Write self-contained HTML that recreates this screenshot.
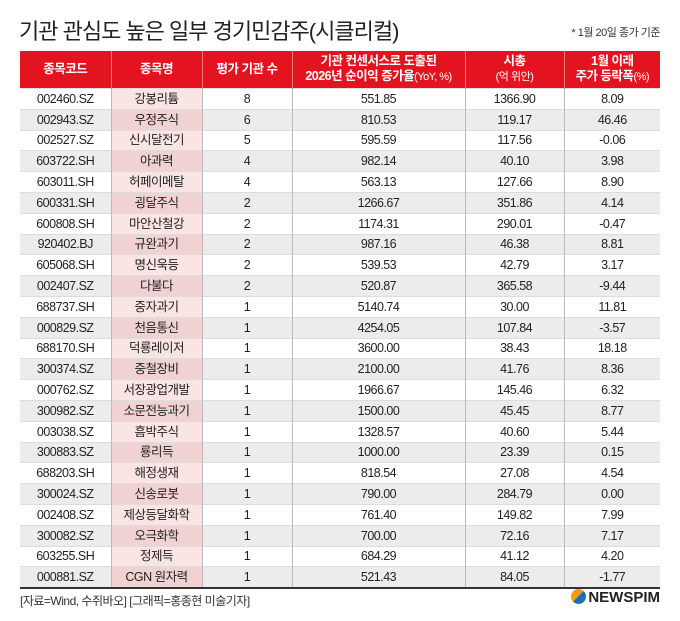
<!DOCTYPE html>
<html><head><meta charset="utf-8"><style>
body{margin:0;width:680px;height:621px;background:#fff;font-family:"Liberation Sans","Noto Sans CJK KR",sans-serif;position:relative;overflow:hidden;color:#222}
.t{position:absolute;left:19px;top:14px;font-size:22px;letter-spacing:-1px;color:#222}
.n{position:absolute;right:20px;top:24px;font-size:11px;color:#333;letter-spacing:-0.5px}
table{position:absolute;left:20px;top:51px;width:640px;border-collapse:collapse;table-layout:fixed}
th{background:#e3141f;color:#fff;font-size:12.5px;font-weight:bold;height:37px;padding:0;line-height:15px;border-left:1px solid #f08080;letter-spacing:-0.5px}
th:first-child{border-left:none}
th small{font-weight:normal;font-size:11px}
td{height:20.8px;padding:0;text-align:center;font-size:12.5px;line-height:14px;border-left:1px solid #bbb;border-top:1px solid #ddd;letter-spacing:-0.5px;box-sizing:border-box;vertical-align:middle}
td:first-child{border-left:none}
tbody tr:nth-child(even) td{background:#ececec}
td.p{background:#fbe4e4!important}
tbody tr:nth-child(even) td.p{background:#f1d2d2!important}
tbody tr:last-child td{border-bottom:2px solid #333}
.s{position:absolute;left:20px;top:592px;font-size:12px;color:#333;letter-spacing:-0.5px}
.l{position:absolute;right:20px;top:589px;font-size:15px;font-weight:bold;color:#222}
.l i{display:inline-block;width:15px;height:15px;border-radius:50%;background:linear-gradient(135deg,#f39c12 50%,#1d6fb8 50%);vertical-align:-2px;margin-right:2px}
</style></head><body>
<div class="t">기관 관심도 높은 일부 경기민감주(시클리컬)</div>
<div class="n">* 1월 20일 종가 기준</div>
<table>
<colgroup><col style="width:91px"><col style="width:91px"><col style="width:90px"><col style="width:173px"><col style="width:99px"><col style="width:96px"></colgroup>
<thead><tr><th>종목코드</th><th>종목명</th><th>평가 기관 수</th><th>기관 컨센서스로 도출된<br>2026년 순이익 증가율<small>(YoY, %)</small></th><th>시총<br><small>(억 위안)</small></th><th>1월 이래<br>주가 등락폭<small>(%)</small></th></tr></thead>
<tbody>
<tr><td>002460.SZ</td><td class="p">강봉리튬</td><td>8</td><td>551.85</td><td>1366.90</td><td>8.09</td></tr>
<tr><td>002943.SZ</td><td class="p">우정주식</td><td>6</td><td>810.53</td><td>119.17</td><td>46.46</td></tr>
<tr><td>002527.SZ</td><td class="p">신시달전기</td><td>5</td><td>595.59</td><td>117.56</td><td>-0.06</td></tr>
<tr><td>603722.SH</td><td class="p">아과력</td><td>4</td><td>982.14</td><td>40.10</td><td>3.98</td></tr>
<tr><td>603011.SH</td><td class="p">허페이메탈</td><td>4</td><td>563.13</td><td>127.66</td><td>8.90</td></tr>
<tr><td>600331.SH</td><td class="p">굉달주식</td><td>2</td><td>1266.67</td><td>351.86</td><td>4.14</td></tr>
<tr><td>600808.SH</td><td class="p">마안산철강</td><td>2</td><td>1174.31</td><td>290.01</td><td>-0.47</td></tr>
<tr><td>920402.BJ</td><td class="p">규완과기</td><td>2</td><td>987.16</td><td>46.38</td><td>8.81</td></tr>
<tr><td>605068.SH</td><td class="p">명신욱등</td><td>2</td><td>539.53</td><td>42.79</td><td>3.17</td></tr>
<tr><td>002407.SZ</td><td class="p">다불다</td><td>2</td><td>520.87</td><td>365.58</td><td>-9.44</td></tr>
<tr><td>688737.SH</td><td class="p">중자과기</td><td>1</td><td>5140.74</td><td>30.00</td><td>11.81</td></tr>
<tr><td>000829.SZ</td><td class="p">천음통신</td><td>1</td><td>4254.05</td><td>107.84</td><td>-3.57</td></tr>
<tr><td>688170.SH</td><td class="p">덕룡레이저</td><td>1</td><td>3600.00</td><td>38.43</td><td>18.18</td></tr>
<tr><td>300374.SZ</td><td class="p">중철장비</td><td>1</td><td>2100.00</td><td>41.76</td><td>8.36</td></tr>
<tr><td>000762.SZ</td><td class="p">서장광업개발</td><td>1</td><td>1966.67</td><td>145.46</td><td>6.32</td></tr>
<tr><td>300982.SZ</td><td class="p">소문전능과기</td><td>1</td><td>1500.00</td><td>45.45</td><td>8.77</td></tr>
<tr><td>003038.SZ</td><td class="p">흠박주식</td><td>1</td><td>1328.57</td><td>40.60</td><td>5.44</td></tr>
<tr><td>300883.SZ</td><td class="p">룡리득</td><td>1</td><td>1000.00</td><td>23.39</td><td>0.15</td></tr>
<tr><td>688203.SH</td><td class="p">해정생재</td><td>1</td><td>818.54</td><td>27.08</td><td>4.54</td></tr>
<tr><td>300024.SZ</td><td class="p">신송로봇</td><td>1</td><td>790.00</td><td>284.79</td><td>0.00</td></tr>
<tr><td>002408.SZ</td><td class="p">제상등달화학</td><td>1</td><td>761.40</td><td>149.82</td><td>7.99</td></tr>
<tr><td>300082.SZ</td><td class="p">오극화학</td><td>1</td><td>700.00</td><td>72.16</td><td>7.17</td></tr>
<tr><td>603255.SH</td><td class="p">정제득</td><td>1</td><td>684.29</td><td>41.12</td><td>4.20</td></tr>
<tr><td>000881.SZ</td><td class="p">CGN 원자력</td><td>1</td><td>521.43</td><td>84.05</td><td>-1.77</td></tr>
</tbody></table>
<div class="s">[자료=Wind, 수쥐바오] [그래픽=홍종현 미술기자]</div>
<div class="l"><i></i>NEWSPIM</div>
</body></html>
